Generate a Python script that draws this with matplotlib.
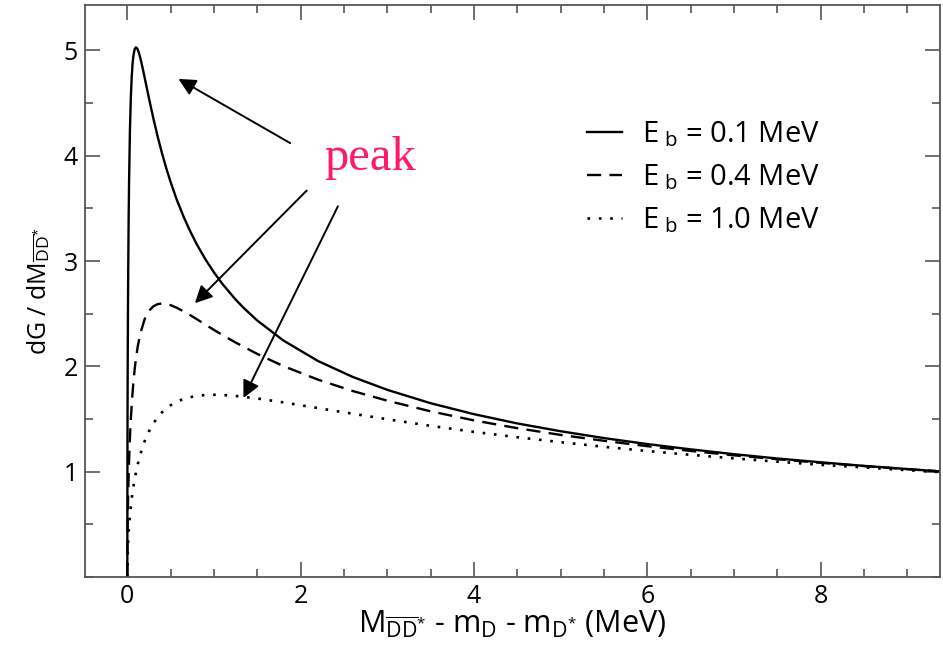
import matplotlib
matplotlib.use("Agg")
import matplotlib.pyplot as plt
from matplotlib.ticker import MultipleLocator

plt.rcParams['font.family'] = ['Open Sans', 'DejaVu Sans']
plt.rcParams['mathtext.fontset'] = 'custom'
plt.rcParams['mathtext.rm'] = 'Open Sans'
plt.rcParams['mathtext.it'] = 'Open Sans:italic'
plt.rcParams['mathtext.bf'] = 'Open Sans:bold'

# ---------------------------------------------------------------------
#  data
# ---------------------------------------------------------------------
x_solid = [0, 0.001, 0.002, 0.003, 0.005, 0.007, 0.01, 0.015, 0.02, 0.03, 0.04, 0.05,
           0.06, 0.07, 0.085, 0.1, 0.115, 0.13, 0.15, 0.17, 0.19, 0.22, 0.25, 0.3,
           0.35, 0.4, 0.45, 0.5, 0.57, 0.65, 0.72, 0.8, 0.9, 1.0, 1.1, 1.25,
           1.35, 1.5, 1.8, 2.2, 2.6, 3.0, 3.5, 4.0, 4.5, 5.0, 5.5, 6.0,
           6.5, 7.0, 7.5, 8.0, 8.5, 9.0, 9.4]
y_solid = [0, 0.996, 1.395, 1.692, 2.142, 2.487, 2.892, 3.388, 3.749, 4.238, 4.544, 4.742,
           4.870, 4.951, 5.013, 5.030, 5.017, 4.987, 4.928, 4.858, 4.781, 4.663, 4.544, 4.356,
           4.182, 4.024, 3.880, 3.749, 3.584, 3.420, 3.292, 3.161, 3.018, 2.892, 2.780, 2.634,
           2.549, 2.435, 2.246, 2.051, 1.900, 1.777, 1.650, 1.546, 1.458, 1.384, 1.319, 1.262,
           1.212, 1.166, 1.125, 1.089, 1.055, 1.025, 1.001]

x_fine = [0, 0.002, 0.005, 0.01, 0.02, 0.03, 0.04, 0.055, 0.07, 0.085, 0.1, 0.12,
          0.15, 0.2, 0.25, 0.3, 0.35, 0.4, 0.45, 0.5, 0.57, 0.65, 0.72, 0.8,
          0.9, 1.0, 1.1, 1.25, 1.5, 1.8, 2.2, 2.6, 3.0, 3.5, 4.0, 4.5,
          5.0, 5.5, 6.0, 6.5, 7.0, 7.5, 8.0, 8.5, 9.0, 9.4]
y_dashed = [0, 0.365, 0.574, 0.801, 1.106, 1.323, 1.493, 1.693, 1.849, 1.975, 2.078, 2.188,
            2.313, 2.449, 2.527, 2.570, 2.591, 2.597, 2.593, 2.581, 2.557, 2.522, 2.489, 2.449,
            2.397, 2.346, 2.297, 2.226, 2.118, 2.003, 1.874, 1.766, 1.674, 1.573, 1.487, 1.413,
            1.349, 1.293, 1.242, 1.197, 1.155, 1.118, 1.084, 1.053, 1.024, 1.002]
y_dotted = [0, 0.154, 0.243, 0.343, 0.480, 0.582, 0.665, 0.769, 0.856, 0.930, 0.995, 1.070,
            1.165, 1.290, 1.384, 1.458, 1.516, 1.563, 1.601, 1.631, 1.664, 1.691, 1.707, 1.719,
            1.728, 1.730, 1.728, 1.719, 1.695, 1.658, 1.604, 1.550, 1.498, 1.435, 1.378, 1.327,
            1.280, 1.236, 1.196, 1.160, 1.126, 1.095, 1.065, 1.040, 1.014, 0.995]

labels = [r'E$_{\rm\ b}$ = 0.1 MeV', r'E$_{\rm\ b}$ = 0.4 MeV', r'E$_{\rm\ b}$ = 1.0 MeV']

# arrows: (tail, tip) in data coords
arrows = [((1.88, 4.12), (0.59, 4.73)),
          ((2.07, 3.67), (0.78, 2.60)),
          ((2.43, 3.52), (1.34, 1.70))]

# ---------------------------------------------------------------------
#  figure
# ---------------------------------------------------------------------
fig = plt.figure(figsize=(9.43, 6.49), dpi=100)
ax = fig.add_axes([0.090, 0.111, 0.907, 0.881])

ax.plot(x_solid, y_solid, color='black', lw=1.7, ls='-', label=labels[0])
ax.plot(x_fine, y_dashed, color='black', lw=1.7, ls=(0, (6, 3.5)), label=labels[1])
ax.plot(x_fine, y_dotted, color='black', lw=1.9, ls=(0, (1, 3.3)), label=labels[2])

ax.set_xlim(-0.49, 9.38)
ax.set_ylim(0, 5.43)

ax.xaxis.set_major_locator(MultipleLocator(2))
ax.xaxis.set_minor_locator(MultipleLocator(0.5))
ax.set_yticks([1, 2, 3, 4, 5])
ax.yaxis.set_minor_locator(MultipleLocator(0.5))

spine_col = '#555555'
for s in ax.spines.values():
    s.set_color(spine_col)
    s.set_linewidth(1.3)
ax.tick_params(which='both', direction='in', top=True, right=True, color=spine_col,
               labelsize=18, width=1.2)
ax.tick_params(which='major', length=11, pad=5)
ax.tick_params(which='minor', length=6)

ax.set_xlabel(r'M$_{\overline{\rm DD}^{*}}$ - m$_{\rm D}$ - m$_{{\rm D}^{*}}$ (MeV)',
              fontsize=22, labelpad=0)
ax.set_ylabel(r'dG / dM$_{\overline{\rm DD}^{*}}$', fontsize=18, labelpad=8)

ax.legend(loc='upper left', bbox_to_anchor=(0.587, 0.80), frameon=False, fontsize=21,
          handlelength=1.2, handletextpad=0.7, labelspacing=0.45,
          borderpad=0, borderaxespad=0)

ax.text(2.80, 3.98, 'peak', color='#ff1a66', fontsize=35, family='Liberation Serif',
        ha='center', va='center')
for tail, tip in arrows:
    ax.annotate('', xy=tip, xytext=tail,
                arrowprops=dict(arrowstyle='-|>', color='black', lw=1.4,
                                mutation_scale=26, shrinkA=0, shrinkB=0))

fig.savefig('out.png', dpi=100)
